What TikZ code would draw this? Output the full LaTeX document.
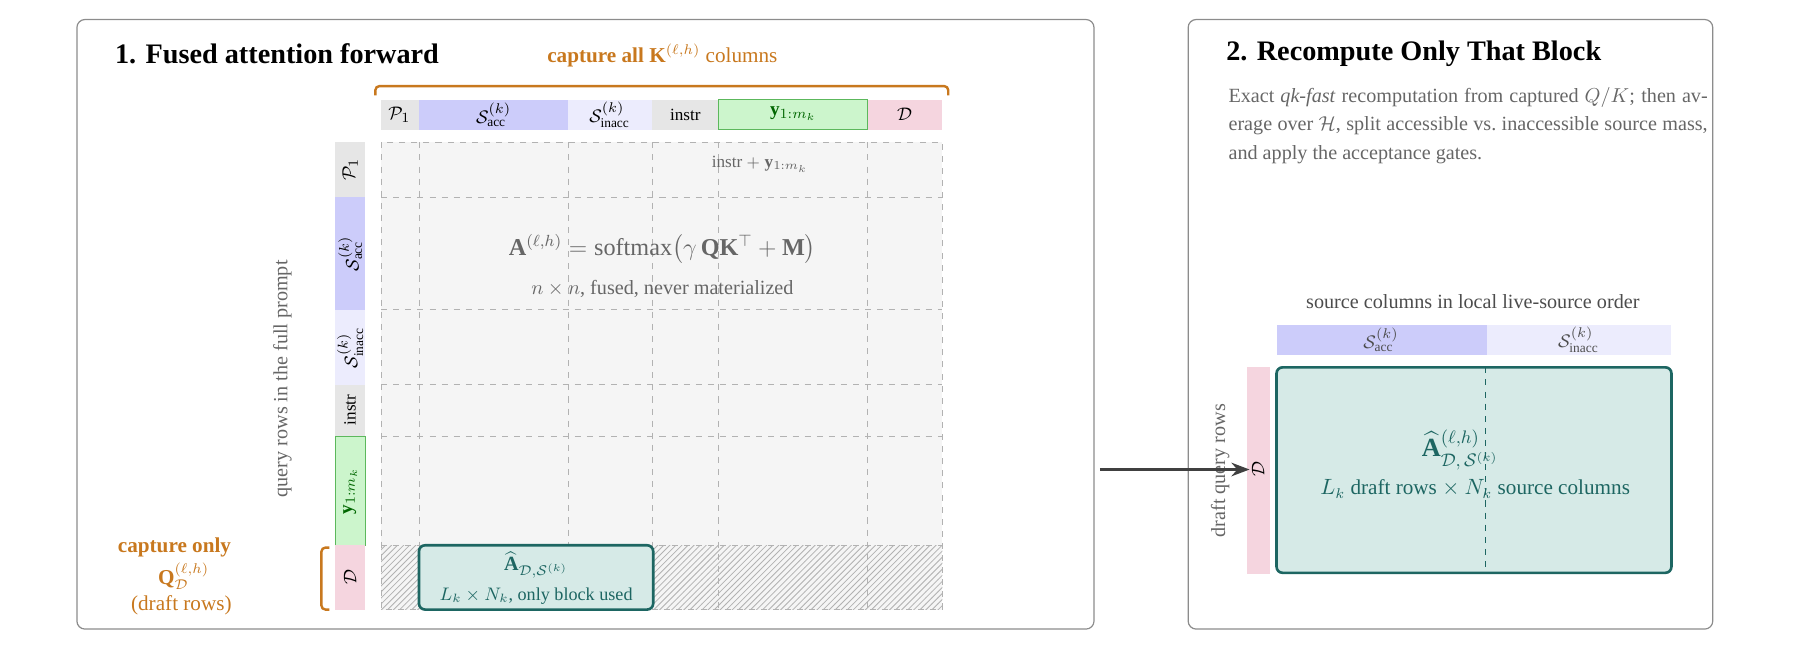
\documentclass[tikz,border=0pt]{standalone}
\usepackage{amsmath}
\usepackage{amssymb}
\usepackage{fontspec}
\setmainfont{Liberation Serif}
\usetikzlibrary{positioning,patterns,arrows.meta}

\definecolor{accblue}{HTML}{CCCCFA}
\definecolor{inaccblue}{HTML}{ECECFD}
\definecolor{instrgray}{HTML}{E6E6E6}
\definecolor{ygreen}{HTML}{CCF5CC}
\definecolor{ygreenline}{HTML}{5CB85C}
\definecolor{dpink}{HTML}{F5D5DF}
\definecolor{capt}{HTML}{C8781E}
\definecolor{tealbox}{HTML}{D6EAE7}
\definecolor{tealline}{HTML}{1D6662}
\definecolor{gridgray}{HTML}{F5F5F5}

\begin{document}
\begin{tikzpicture}[%
        x=0.02cm, y=-0.02cm,
        panel/.style={draw=black!45, rounded corners=4pt, line width=0.6pt},
        title/.style={font=\bfseries\fontsize{14}{16}\selectfont, anchor=west},
        lbl/.style={font=\fontsize{9.5}{11}\selectfont, inner sep=1pt},
        gridline/.style={draw=black!30, dashed, line width=0.5pt},
        block/.style={draw=tealline, fill=tealbox, line width=1.3pt, rounded corners=3pt},
        txt/.style={font=\fontsize{10}{12}\selectfont, text=black!60}
        ]

        \useasboundingbox (0,0) rectangle (1568,563);

        % panels
        \draw[panel] (67,17) rectangle (953,548);
        \draw[panel] (1035,17) rectangle (1492,548);
        \node[title] (t1) at (94,47) {1. Fused attention forward};
        \node[title] (t2) at (1062,47) {2. Recompute Only That Block};

        % column capture
        \node[lbl, text=capt, font=\bfseries\fontsize{10.5}{13}\selectfont] (capk) at (577,48)
            {capture all $\mathbf{K}^{(\ell,h)}$ \mdseries columns};
        \draw[capt, line width=1.2pt, rounded corners=2pt] (327,83) -- (327,75) -- (826,75) -- (826,83);

        % column header strip
        \fill[instrgray] (332,87) rectangle (365,113);
        \fill[accblue] (365,87) rectangle (495,113);
        \fill[inaccblue] (495,87) rectangle (568,113);
        \fill[instrgray] (568,87) rectangle (626,113);
        \filldraw[fill=ygreen, draw=ygreenline] (626,87) rectangle (756,113);
        \fill[dpink] (756,87) rectangle (821,113);
        \node[lbl] (cp1) at (348,100) {$\mathcal{P}_1$};
        \node[lbl] (cacc) at (430,100) {$\mathcal{S}^{(k)}_{\mathrm{acc}}$};
        \node[lbl] (cinacc) at (531,100) {$\mathcal{S}^{(k)}_{\mathrm{inacc}}$};
        \node[lbl, font=\fontsize{8.5}{10}\selectfont] (cinstr) at (597,100) {instr};
        \node[lbl, text=green!40!black] (cy) at (691,99) {$\mathbf{y}_{1:m_k}$};
        \node[lbl] (cd) at (788,100) {$\mathcal{D}$};

        % row header strip
        \fill[instrgray] (292,124) rectangle (318,172);
        \fill[accblue] (292,172) rectangle (318,270);
        \fill[inaccblue] (292,270) rectangle (318,335);
        \fill[instrgray] (292,335) rectangle (318,380);
        \filldraw[fill=ygreen, draw=ygreenline] (292,380) rectangle (318,475);
        \fill[dpink] (292,475) rectangle (318,531);
        \node[lbl, rotate=90] (rp1) at (305,148) {$\mathcal{P}_1$};
        \node[lbl, rotate=90] (racc) at (305,221) {$\mathcal{S}^{(k)}_{\mathrm{acc}}$};
        \node[lbl, rotate=90] (rinacc) at (305,303) {$\mathcal{S}^{(k)}_{\mathrm{inacc}}$};
        \node[lbl, rotate=90, font=\fontsize{8.5}{10}\selectfont] (rinstr) at (305,357) {instr};
        \node[lbl, rotate=90, text=green!40!black] (ry) at (305,428) {$\mathbf{y}_{1:m_k}$};
        \node[lbl, rotate=90] (rd) at (305,503) {$\mathcal{D}$};
        \node[txt, rotate=90, font=\fontsize{10}{12}\selectfont] (qrows) at (246,330) {query rows in the full prompt};

        % attention grid
        \fill[gridgray] (332,124) rectangle (821,531);
        \fill[pattern=north east lines, pattern color=black!30] (332,475) rectangle (821,531);
        \foreach \xx in {365,495,568,626,756}
            \draw[gridline] (\xx,124) -- (\xx,531);
        \foreach \yy in {172,270,335,380,475}
            \draw[gridline] (332,\yy) -- (821,\yy);
        \draw[gridline] (332,124) rectangle (821,531);
        \node[txt, font=\fontsize{8.5}{10}\selectfont] (iy) at (662,143) {instr $+\;\mathbf{y}_{1:m_k}$};
        \node[txt, font=\fontsize{12}{14}\selectfont] (aeq) at (577,217)
            {$\mathbf{A}^{(\ell,h)} = \operatorname{softmax}\!\big(\gamma\,\mathbf{Q}\mathbf{K}^{\top} + \mathbf{M}\big)$};
        \node[txt] (nn) at (577,252) {$n\times n$, fused, never materialized};

        % captured block
        \draw[block] (365,475) rectangle (569,531);
        \node[lbl, text=tealline, font=\fontsize{10}{12}\selectfont] (ahat) at (467,492)
            {$\widehat{\mathbf{A}}_{\mathcal{D},\mathcal{S}^{(k)}}$};
        \node[lbl, text=tealline, font=\fontsize{9}{11}\selectfont] (lk) at (467,519) {$L_k\times N_k$, only block used};

        % draft row capture
        \draw[capt, line width=1.2pt, rounded corners=2pt] (287,477) -- (280,477) -- (280,531) -- (287,531);
        \node[lbl, text=capt, font=\bfseries\fontsize{10.5}{13}\selectfont] (capq) at (152,477) {capture only};
        \node[lbl, text=capt, font=\fontsize{10.5}{13}\selectfont] (qd) at (160,502) {$\mathbf{Q}^{(\ell,h)}_{\mathcal{D}}$};
        \node[lbl, text=capt, font=\fontsize{10.5}{13}\selectfont] (dr) at (158,527) {(draft rows)};

        % right panel text
        \node[txt, anchor=north west, text width=8.35cm, align=justify, font=\fontsize{10}{14}\selectfont] (desc) at (1064,70)
            {Exact \textit{qk-fast} recomputation from captured $Q/K$; then average over $\mathcal{H}$, split accessible vs.\ inaccessible source mass, and apply the accep\-tance gates.};
        \node[lbl, text=black!70, font=\fontsize{10}{12}\selectfont] (srccol) at (1283,263) {source columns in local live-source order};

        \fill[accblue] (1112,283) rectangle (1295,309);
        \fill[inaccblue] (1295,283) rectangle (1456,309);
        \node[lbl, text=black!70] (sacc) at (1203,296) {$\mathcal{S}^{(k)}_{\mathrm{acc}}$};
        \node[lbl, text=black!70] (sinacc) at (1375,296) {$\mathcal{S}^{(k)}_{\mathrm{inacc}}$};

        \fill[dpink] (1086,320) rectangle (1106,500);
        \node[lbl, rotate=90] (dd) at (1096,409) {$\mathcal{D}$};
        \node[txt, rotate=90, font=\fontsize{10}{12}\selectfont] (dq) at (1063,410) {draft query rows};

        \draw[block] (1112,320) rectangle (1456,499);
        \draw[tealline, dashed, line width=0.6pt] (1294,320) -- (1294,499);
        \node[lbl, text=tealline, font=\fontsize{13}{15}\selectfont] (ahat2) at (1272,392)
            {$\widehat{\mathbf{A}}^{(\ell,h)}_{\mathcal{D},\,\mathcal{S}^{(k)}}$};
        \node[lbl, text=tealline, font=\fontsize{10.5}{13}\selectfont] (lk2) at (1285,426)
            {$L_k$ draft rows $\times$ $N_k$ source columns};

        % hand-off
        \coordinate (out) at (958,409);
        \draw[-{Stealth[length=9pt]}, line width=1.3pt, black!75] (out) -- (dd.north);

\end{tikzpicture}
\end{document}
